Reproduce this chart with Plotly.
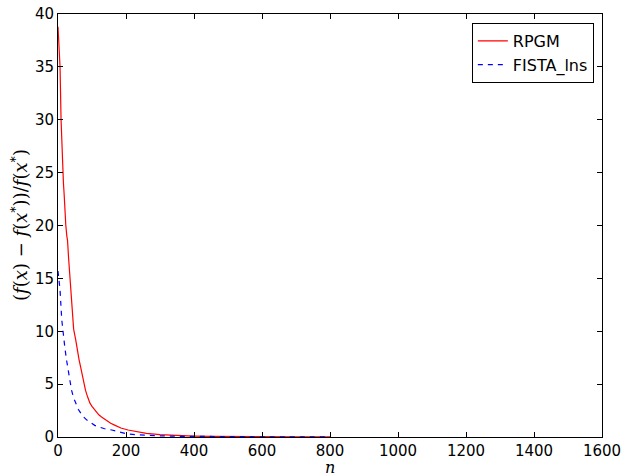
import plotly.graph_objects as go

# RPGM series
rpgm_n = [0, 3, 6, 9, 13, 16, 18, 20, 23, 26, 28, 31, 35, 38, 42, 46, 52, 57, 62, 66, 70,
          75, 81, 87, 94, 100, 110, 120, 128, 140, 155, 168, 185, 206, 230, 260, 300, 350,
          400, 450, 500, 600, 700, 800]
rpgm_v = [38.8, 37, 35, 30, 25, 24, 23, 21.5, 20, 19, 18.6, 17, 15.1, 13, 11.1, 10.2, 9.2,
          8.0, 7.3, 6.7, 6.0, 5.3, 4.4, 3.8, 3.2, 2.9, 2.5, 2.1, 1.9, 1.6, 1.3, 1.1, 0.85,
          0.66, 0.5, 0.35, 0.22, 0.14, 0.09, 0.06, 0.04, 0.02, 0.012, 0.008]

# FISTA_lns series
fista_n = [0, 3, 6, 11, 15, 20, 25, 30, 35, 40, 46, 52, 60, 68, 75, 85, 95, 108, 120, 135,
           158, 180, 202, 230, 260, 300, 350, 400, 500, 600, 700, 800]
fista_v = [15.7, 15, 13.9, 11.1, 9.8, 8.5, 7.3, 6.2, 5.2, 4.4, 3.7, 3.2, 2.6, 2.2, 1.9, 1.6,
           1.35, 1.1, 0.95, 0.8, 0.66, 0.45, 0.3, 0.22, 0.16, 0.11, 0.07, 0.05, 0.03, 0.02,
           0.012, 0.008]

x_ticks = [0, 200, 400, 600, 800, 1000, 1200, 1400, 1600]
y_ticks = [0, 5, 10, 15, 20, 25, 30, 35, 40]

x_label = "<i>n</i>"
y_label = ("(<i>f</i>(<i>x</i>) − <i>f</i>(<i>x</i><sup>*</sup>))/"
           "<i>f</i>(<i>x</i><sup>*</sup>)")

fig = go.Figure()
fig.add_trace(go.Scatter(x=rpgm_n, y=rpgm_v, mode="lines", name="RPGM",
                         line=dict(color="#ff0000", width=1.2)))
fig.add_trace(go.Scatter(x=fista_n, y=fista_v, mode="lines", name="FISTA_lns",
                         line=dict(color="#0000ff", width=1.2, dash="5px,5px")))

axis_common = dict(showgrid=False, zeroline=False, showline=True, linecolor="black",
                   linewidth=1, mirror="ticks", ticks="inside", ticklen=5,
                   tickcolor="black", tickwidth=1, automargin=False,
                   tickfont=dict(family="DejaVu Sans", size=15, color="black"))

fig.update_layout(
    width=624, height=476,
    margin=dict(l=58, r=22, t=14, b=39),
    paper_bgcolor="white", plot_bgcolor="white",
    xaxis=dict(range=[0, 1600], tickvals=x_ticks, **axis_common),
    yaxis=dict(range=[0, 40], tickvals=y_ticks, **axis_common),
    legend=dict(x=0.985, y=0.979, xanchor="right", yanchor="top",
                bgcolor="white", bordercolor="black", borderwidth=1,
                font=dict(family="DejaVu Sans", size=16, color="black"),
                tracegroupgap=0, itemwidth=30),
    showlegend=True,
    annotations=[
        dict(text=x_label, xref="paper", yref="paper", x=0.5, y=-0.071,
             xanchor="center", yanchor="middle", showarrow=False,
             font=dict(family="DejaVu Serif", size=16, color="black")),
        dict(text=y_label, xref="paper", yref="paper", x=-0.07, y=0.501,
             xanchor="center", yanchor="middle", showarrow=False, textangle=-90,
             font=dict(family="DejaVu Serif", size=18, color="black")),
    ],
)

fig.write_html("out.html", config={"displayModeBar": False},
               post_script="document.body.style.margin='0';document.body.style.overflow='hidden';")
